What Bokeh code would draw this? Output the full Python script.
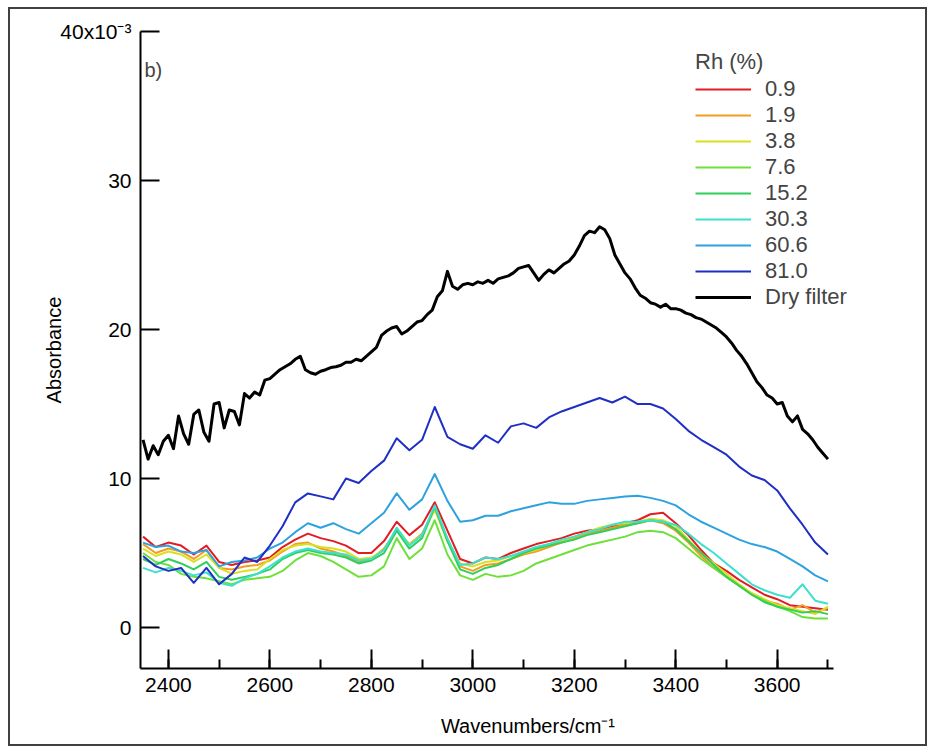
from bokeh.plotting import figure
from bokeh.models import (Range1d, SingleIntervalTicker, FixedTicker, Legend,
                          LegendItem, Label, ColumnDataSource)
from bokeh.embed import file_html
from bokeh.resources import INLINE

# ---------------- data (absorbance in units of 1e-3) ----------------
wn_rh = list(range(2350, 3701, 25))          # wavenumbers for the Rh spectra
wn_dry = list(range(2350, 3701, 10))         # wavenumbers for the dry filter

rh_labels = ["0.9", "1.9", "3.8", "7.6", "15.2", "30.3", "60.6", "81.0"]
rh_colors = ["#e31b23", "#f39c21", "#d9e021", "#6ee03a",
             "#2fcf5a", "#3de0cf", "#2ea2df", "#1f2fc4"]

rh_0_9 = [6.1, 5.4, 5.7, 5.5, 4.9, 5.5, 4.4, 4.2, 4.4, 4.5, 4.7, 5.4, 5.9, 6.3,
          6.0, 5.8, 5.5, 5.0, 5.0, 5.8, 7.1, 6.2, 6.9, 8.4, 6.5, 4.6, 4.3, 4.7,
          4.6, 5.0, 5.3, 5.6, 5.8, 6.0, 6.3, 6.5, 6.6, 6.8, 7.0, 7.2, 7.6, 7.7,
          7.0, 6.2, 5.2, 4.3, 3.8, 3.2, 2.7, 2.2, 1.9, 1.5, 1.4, 1.3, 1.2]
rh_1_9 = [5.6, 5.0, 5.3, 5.1, 4.6, 5.2, 4.0, 3.9, 4.1, 4.2, 4.5, 5.1, 5.6, 5.7,
          5.3, 5.1, 4.8, 4.4, 4.6, 5.3, 6.5, 5.6, 6.3, 8.0, 5.9, 4.1, 3.8, 4.2,
          4.3, 4.6, 4.9, 5.1, 5.4, 5.7, 6.0, 6.3, 6.5, 6.7, 6.9, 7.0, 7.2, 7.0,
          6.5, 5.7, 4.8, 4.0, 3.4, 2.8, 2.3, 1.8, 1.6, 1.2, 1.5, 1.0, 1.3]
rh_3_8 = [5.3, 4.8, 5.1, 4.9, 4.4, 4.9, 4.0, 3.6, 3.8, 3.9, 4.6, 5.2, 5.5, 5.6,
          5.4, 5.3, 5.1, 4.6, 4.7, 5.2, 6.6, 5.6, 6.2, 7.9, 5.8, 4.3, 4.1, 4.4,
          4.5, 4.8, 5.0, 5.2, 5.6, 5.8, 6.1, 6.4, 6.7, 6.9, 7.0, 7.1, 7.3, 7.2,
          6.8, 5.9, 5.0, 4.3, 3.6, 2.9, 2.3, 1.9, 1.5, 1.3, 1.1, 0.9, 1.4]
rh_7_6 = [5.0, 4.4, 4.2, 3.6, 3.4, 3.3, 3.1, 2.9, 3.2, 3.3, 3.4, 3.8, 4.5, 5.0,
          4.8, 4.4, 3.9, 3.4, 3.5, 4.1, 6.0, 4.6, 5.3, 7.2, 4.9, 3.5, 3.2, 3.6,
          3.4, 3.5, 3.8, 4.3, 4.6, 4.9, 5.2, 5.5, 5.7, 5.9, 6.1, 6.4, 6.5, 6.4,
          6.0, 5.3, 4.6, 4.0, 3.4, 2.8, 2.2, 1.8, 1.4, 1.1, 0.7, 0.6, 0.6]
rh_15_2 = [4.6, 4.2, 4.6, 4.3, 3.9, 4.4, 3.4, 3.2, 3.4, 3.6, 3.9, 4.6, 5.0, 5.2,
           5.0, 4.9, 4.7, 4.3, 4.5, 5.0, 6.5, 5.3, 6.0, 8.1, 5.8, 3.9, 3.6, 4.0,
           4.2, 4.6, 5.0, 5.3, 5.5, 5.7, 5.9, 6.2, 6.4, 6.6, 6.8, 7.0, 7.2, 7.1,
           6.6, 5.8, 5.0, 4.2, 3.4, 2.8, 2.2, 1.7, 1.4, 1.2, 1.0, 1.1, 0.9]
rh_30_3 = [4.0, 3.7, 4.0, 3.8, 3.5, 3.7, 3.0, 2.8, 3.3, 3.6, 4.1, 4.7, 5.1, 5.3,
           5.1, 5.0, 4.9, 4.5, 4.6, 5.2, 6.7, 5.5, 6.2, 8.2, 6.0, 4.2, 4.3, 4.7,
           4.6, 4.8, 5.1, 5.4, 5.6, 5.9, 6.1, 6.4, 6.6, 6.9, 7.1, 7.1, 7.2, 7.1,
           6.9, 6.3, 5.6, 5.0, 4.3, 3.6, 2.9, 2.5, 2.2, 2.0, 2.9, 1.8, 1.6]
rh_60_6 = [5.7, 5.4, 5.5, 5.1, 5.0, 5.2, 4.1, 4.4, 4.5, 4.7, 5.3, 5.7, 6.4, 7.0,
           6.7, 7.0, 6.6, 6.3, 7.0, 7.7, 9.0, 7.9, 8.6, 10.3, 8.5, 7.1, 7.2, 7.5,
           7.5, 7.8, 8.0, 8.2, 8.4, 8.3, 8.3, 8.5, 8.6, 8.7, 8.8, 8.85, 8.7, 8.5,
           8.2, 7.6, 7.1, 6.7, 6.3, 5.9, 5.6, 5.4, 5.1, 4.6, 4.1, 3.5, 3.1]
rh_81_0 = [4.8, 4.1, 3.8, 4.0, 3.0, 4.0, 2.9, 3.6, 4.7, 4.4, 5.5, 6.8, 8.4, 9.0,
           8.8, 8.6, 10.0, 9.7, 10.5, 11.2, 12.7, 11.9, 12.6, 14.8, 12.8, 12.3,
           12.0, 12.9, 12.4, 13.5, 13.7, 13.4, 14.1, 14.5, 14.8, 15.1, 15.4,
           15.1, 15.5, 15.0, 15.0, 14.7, 14.0, 13.2, 12.6, 12.1, 11.6, 10.8,
           10.2, 9.9, 9.2, 8.0, 6.9, 5.7, 4.9]

dry_filter = [12.6, 11.3, 12.2, 11.6, 12.5, 12.9, 12.0, 14.2, 13.0, 12.3,
              14.3, 14.6, 13.1, 12.5, 15.0, 15.1, 13.4, 14.6, 14.5, 13.6,
              15.7, 15.4, 15.8, 15.6, 16.6, 16.7, 17.0, 17.3, 17.5, 17.7,
              18.0, 18.2, 17.3, 17.1, 17.0, 17.2, 17.3, 17.45, 17.5, 17.6,
              17.8, 17.8, 18.0, 17.9, 18.2, 18.5, 18.8, 19.6, 19.9, 20.1,
              20.2, 19.7, 19.9, 20.2, 20.5, 20.6, 21.0, 21.3, 22.2, 22.6,
              23.9, 22.9, 22.7, 23.0, 23.1, 23.0, 23.2, 23.1, 23.3, 23.1,
              23.4, 23.5, 23.6, 23.8, 24.1, 24.2, 24.3, 23.8, 23.3, 23.7,
              24.0, 23.8, 24.1, 24.4, 24.6, 25.0, 25.6, 26.3, 26.6, 26.5,
              26.9, 26.7, 26.1, 25.0, 24.4, 23.8, 23.4, 22.8, 22.3, 22.1,
              21.8, 21.7, 21.5, 21.7, 21.4, 21.4, 21.3, 21.1, 21.0, 20.8,
              20.7, 20.5, 20.3, 20.1, 19.8, 19.5, 19.1, 18.6, 18.2, 17.7,
              17.1, 16.5, 16.1, 15.6, 15.4, 15.0, 15.1, 14.2, 13.8, 14.2,
              13.3, 13.0, 12.6, 12.1, 11.7, 11.3]

rh_series = [rh_0_9, rh_1_9, rh_3_8, rh_7_6, rh_15_2, rh_30_3, rh_60_6, rh_81_0]

x_ticks_major = 200
y_ticks = [0, 10, 20, 30, 40]
y_tick_labels = {40: "40x10\u207b\u00b3"}

# ---------------- figure ----------------
FONT = "Liberation Sans"
X0, X_AXIS_END, X_FRAME_END = 2345, 3710, 3872.6
p = figure(frame_width=775, frame_height=637,
           x_range=Range1d(X0, X_FRAME_END), y_range=Range1d(-2.75, 40),
           output_backend="svg", toolbar_location=None,
           min_border_left=130, min_border_right=10,
           min_border_top=22, min_border_bottom=76)
p.styles = {"border": "2px solid #404040", "margin-left": "8px",
            "margin-top": "7px"}
p.outline_line_color = None
p.grid.visible = False
p.background_fill_color = "white"
p.border_fill_color = "white"

xa = p.xaxis[0]
ya = p.yaxis[0]
for ax in (xa, ya):
    ax.axis_line_width = 2
    ax.axis_line_color = "black"
    ax.major_tick_line_width = 2
    ax.major_tick_line_color = "black"
    ax.minor_tick_line_width = 2
    ax.minor_tick_line_color = "black"
    ax.major_tick_in = 19
    ax.major_tick_out = 0
    ax.minor_tick_in = 9
    ax.minor_tick_out = 0
    ax.major_label_text_font = FONT
    ax.major_label_text_font_size = "21px"
    ax.major_label_text_color = "black"
    ax.axis_label_text_font = FONT
    ax.axis_label_text_font_size = "20px"
    ax.axis_label_text_font_style = "normal"
    ax.axis_label_text_color = "black"
    ax.major_label_standoff = 9

xa.ticker = SingleIntervalTicker(interval=x_ticks_major, num_minor_ticks=2)
xa.bounds = (X0, X_AXIS_END)
xa.axis_label = "Wavenumbers/cm\u207b\u00b9"
xa.axis_label_standoff = 20

ya.ticker = FixedTicker(ticks=y_ticks, minor_ticks=[])
ya.major_label_overrides = y_tick_labels
ya.axis_label = "Absorbance"
ya.axis_label_standoff = -8

# ---------------- lines ----------------
items = []
for lab, col, vals in zip(rh_labels, rh_colors, rh_series):
    src = ColumnDataSource(dict(x=wn_rh, y=vals))
    r = p.line("x", "y", source=src, line_color=col, line_width=2,
               line_join="round")
    items.append(LegendItem(label=lab, renderers=[r]))

src_dry = ColumnDataSource(dict(x=wn_dry, y=dry_filter))
rd = p.line("x", "y", source=src_dry, line_color="black", line_width=3,
            line_join="round")
items.append(LegendItem(label="Dry filter", renderers=[rd]))

legend = Legend(items=items, location=(555, 358),
                title="Rh (%)", title_text_font=FONT,
                title_text_font_size="22px", title_text_font_style="normal",
                title_standoff=1,
                label_text_font=FONT, label_text_font_size="22px",
                glyph_width=56, glyph_height=26, label_height=26,
                label_standoff=14, spacing=0, padding=0, margin=0,
                border_line_color=None, background_fill_alpha=0)
p.add_layout(legend)

p.add_layout(Label(x=X0, y=37.4, x_offset=4, text="b)",
                   text_align="left", text_baseline="middle",
                   text_font=FONT, text_font_size="20px"))

open("out.html", "w").write(file_html(p, INLINE))
